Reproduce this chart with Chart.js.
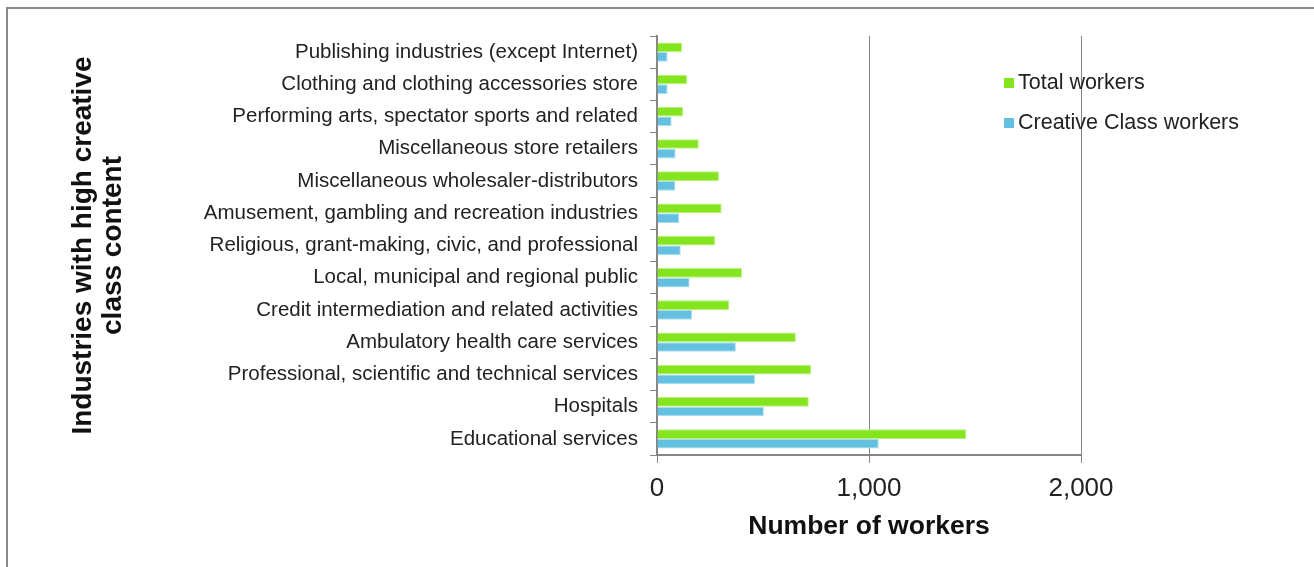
<!DOCTYPE html>
<html>
<head>
<meta charset="utf-8">
<script src="https://cdn.jsdelivr.net/npm/chart.js@4.4.1/dist/chart.umd.min.js"></script>
<style>
  html, body { margin: 0; padding: 0; background: #fff; }
  #wrap { position: relative; width: 1314px; height: 567px; }
  #legend { position: absolute; left: 1004px; top: 68px; font-family: "Liberation Sans", Arial, sans-serif; font-size: 21.5px; color: #222; }
  #legend div { height: 40px; line-height: 28px; white-space: nowrap; }
  #legend span.box { display: inline-block; width: 10px; height: 10px; margin-right: 4px; vertical-align: 1px; }
</style>
</head>
<body>
<div id="wrap">
  <canvas id="grafica" width="1314" height="567"></canvas>
  <div id="legend"></div>
</div>
<script>
const categorias = [
  "Publishing industries (except Internet)",
  "Clothing and clothing accessories store",
  "Performing arts, spectator sports and related",
  "Miscellaneous store retailers",
  "Miscellaneous wholesaler-distributors",
  "Amusement, gambling and recreation industries",
  "Religious, grant-making, civic, and professional",
  "Local, municipal and regional public",
  "Credit intermediation and related activities",
  "Ambulatory health care services",
  "Professional, scientific and technical services",
  "Hospitals",
  "Educational services"
];
const totalWorkers = [118, 143, 123, 197, 292, 305, 275, 401, 341, 655, 727, 716, 1458];
const creativeWorkers = [50, 50, 69, 88, 87, 105, 112, 154, 165, 372, 462, 504, 1046];
const ticksX = [0, 1000, 2000];

const fuente = '"Liberation Sans", Arial, sans-serif';
const gris = '#868686';

// borde exterior del grafico
const bordePlugin = {
  id: 'borde',
  beforeDraw(chart) {
    const ctx = chart.ctx;
    ctx.save();
    ctx.strokeStyle = '#8a8a8a';
    ctx.lineWidth = 2;
    ctx.strokeRect(7, 8, 1320, 600);
    ctx.restore();
  }
};

const datos = {
  labels: categorias,
  datasets: [
    { label: 'Total workers', data: totalWorkers, backgroundColor: '#84E51E', borderColor: '#B8F27A', borderWidth: 1 },
    { label: 'Creative Class workers', data: creativeWorkers, backgroundColor: '#63C0E0', borderColor: '#A9DDEE', borderWidth: 1 }
  ]
};

const grafica = new Chart(document.getElementById('grafica'), {
  type: 'bar',
  data: datos,
  plugins: [bordePlugin],
  options: {
    indexAxis: 'y',
    responsive: false,
    animation: false,
    layout: { padding: { left: 68, top: 36, right: 233, bottom: 0 } },
    datasets: { bar: { barPercentage: 1.0, categoryPercentage: 0.6 } },
    plugins: { legend: { display: false }, tooltip: { enabled: false } },
    scales: {
      x: {
        min: 0, max: 2000,
        afterBuildTicks(scale) { scale.ticks = ticksX.map(v => ({ value: v })); },
        afterFit(scale) { scale.height = 112; },
        ticks: {
          color: '#222', font: { family: fuente, size: 26 }, padding: 10,
          callback: v => v.toLocaleString('en-US')
        },
        grid: { color: gris, lineWidth: 1, tickLength: 8, drawTicks: true },
        border: { color: gris, width: 2 },
        title: { display: true, text: 'Number of workers', color: '#111', font: { family: fuente, size: 26.5, weight: 'bold' }, padding: { top: 0, bottom: 24 } }
      },
      y: {
        afterFit(scale) { scale.width = 657 - 68; },
        ticks: { color: '#222', font: { family: fuente, size: 20.5 }, padding: 12, autoSkip: false },
        grid: { offset: true, drawOnChartArea: false, color: gris, tickLength: 7 },
        border: { color: gris, width: 2 },
        title: {
          display: true,
          text: ['Industries with high creative', 'class content'],
          color: '#111', font: { family: fuente, size: 28, weight: 'bold', lineHeight: 1.07 }, padding: 0
        }
      }
    }
  }
});

// leyenda en html
const $leyenda = document.getElementById('legend');
grafica.data.datasets.forEach(function (ds) {
  const fila = document.createElement('div');
  fila.innerHTML = '<span class="box" style="background:' + ds.backgroundColor + '"></span>' + ds.label;
  $leyenda.appendChild(fila);
});
</script>
</body>
</html>
